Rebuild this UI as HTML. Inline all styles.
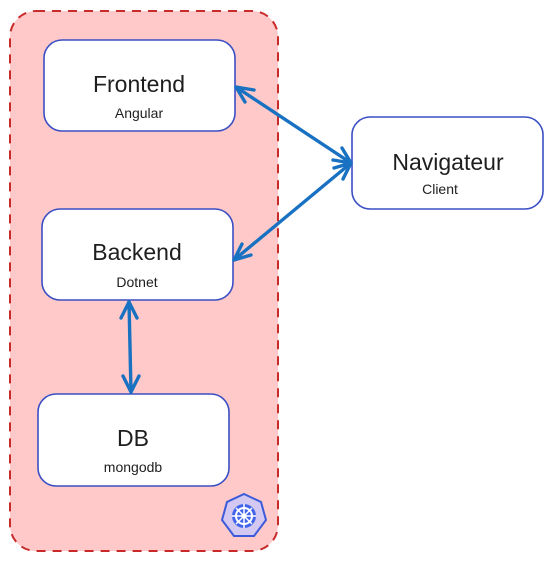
<!DOCTYPE html>
<html><head><meta charset="utf-8"><style>
html,body{margin:0;padding:0;background:#fff;width:552px;height:562px;overflow:hidden}
svg{display:block}
text{font-family:"Liberation Sans",sans-serif;fill:#1e1e1e;text-anchor:middle}
.t{font-size:23px}
.s{font-size:14px}
</style></head><body>
<svg width="552" height="562" viewBox="0 0 552 562" xmlns="http://www.w3.org/2000/svg">
<rect x="10" y="11" width="268" height="540" rx="26" fill="#ffc9c9" stroke="#c92a2a" stroke-width="2" stroke-dasharray="9 7"/>
<g fill="#fff" stroke="#3a4fc4" stroke-width="1.6">
<rect x="44" y="40" width="191" height="91" rx="18"/>
<rect x="42" y="209" width="191" height="91" rx="18"/>
<rect x="38" y="394" width="191" height="92" rx="18"/>
<rect x="352" y="117" width="191" height="92" rx="18"/>
</g>
<text class="t" x="139" y="92">Frontend</text><text class="s" x="139" y="118">Angular</text>
<text class="t" x="137" y="260">Backend</text><text class="s" x="137" y="287">Dotnet</text>
<text class="t" x="133" y="446">DB</text><text class="s" x="133" y="472">mongodb</text>
<text class="t" x="448" y="170">Navigateur</text><text class="s" x="440" y="194">Client</text>
<g stroke="#1971c2" stroke-width="3.4" fill="none" stroke-linecap="round" stroke-linejoin="round">
<line x1="236" y1="87" x2="351" y2="163"/>
<line x1="234" y1="260" x2="351" y2="163"/>
<line x1="129" y1="302" x2="131" y2="392"/>
<polyline points="254,90 236,87 245,102"/>
<polyline points="333,160 351,163 342,148"/>
<polyline points="334,168 351,163 343,179"/>
<polyline points="251,255 234,260 242,244"/>
<polyline points="121,318 129,302 137,318"/>
<polyline points="123,376 131,392 139,376"/>
</g>
<g transform="translate(244,516)">
<polygon points="0,-22 17,-14 22,4 10,20 -10,20 -22,4 -17,-14" fill="#d3c8f2" stroke="#3b5bdb" stroke-width="2"/>
<circle r="12" fill="#4263eb"/>
<circle r="8" fill="none" stroke="#fff" stroke-width="2"/>
<g stroke="#fff" stroke-width="1.5"><line x1="0" y1="-12" x2="0" y2="12"/><line x1="-12" y1="0" x2="12" y2="0"/><line x1="-8" y1="-8" x2="8" y2="8"/><line x1="-8" y1="8" x2="8" y2="-8"/></g>
<circle r="2.5" fill="#fff"/>
</g>
</svg>
</body></html>
